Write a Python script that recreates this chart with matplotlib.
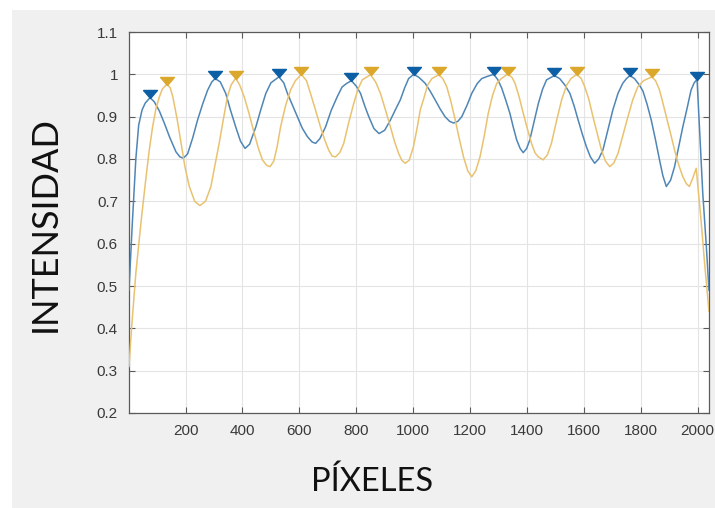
import matplotlib
matplotlib.use("Agg")
import matplotlib.pyplot as plt
from matplotlib.patches import Rectangle

# Intensity profiles along the sensor (pixel index vs. normalised intensity)
blue_x = [1, 12, 25, 35, 47, 58, 75, 90, 108, 125, 143, 166, 180, 192, 207, 225,
          242, 260, 277, 292, 304, 322, 341, 358, 376, 393, 409, 425, 447, 465,
          482, 500, 528, 545, 558, 575, 593, 610, 628, 645, 657, 672, 692, 712,
          733, 750, 765, 783, 800, 815, 830, 844, 862, 880, 900, 920, 938, 955,
          970, 984, 1002, 1020, 1042, 1060, 1077, 1095, 1112, 1128, 1142, 1157,
          1171, 1190, 1206, 1225, 1241, 1260, 1283, 1297, 1311, 1325, 1340, 1352,
          1364, 1376, 1387, 1399, 1410, 1425, 1440, 1455, 1469, 1496, 1515, 1533,
          1551, 1566, 1580, 1595, 1609, 1623, 1638, 1652, 1667, 1685, 1702, 1720,
          1737, 1750, 1762, 1778, 1795, 1808, 1822, 1837, 1852, 1866, 1878, 1890,
          1905, 1919, 1934, 1948, 1963, 1977, 1988, 1998, 2006, 2018, 2030, 2040]
blue_y = [0.49, 0.64, 0.80, 0.88, 0.916, 0.932, 0.945, 0.935, 0.913, 0.885, 0.853,
          0.817, 0.805, 0.802, 0.812, 0.85, 0.892, 0.93, 0.962, 0.982, 0.99, 0.982,
          0.955, 0.915, 0.876, 0.842, 0.825, 0.835, 0.876, 0.918, 0.955, 0.98,
          0.994, 0.98, 0.955, 0.928, 0.9, 0.873, 0.853, 0.84, 0.837, 0.848, 0.876,
          0.915, 0.947, 0.97, 0.978, 0.985, 0.972, 0.955, 0.925, 0.9, 0.872, 0.86,
          0.868, 0.892, 0.917, 0.94, 0.968, 0.99, 1.0, 0.993, 0.979, 0.96, 0.94,
          0.918, 0.9, 0.889, 0.885, 0.889, 0.9, 0.928, 0.955, 0.978, 0.99, 0.995,
          1.0, 0.988, 0.968, 0.94, 0.908, 0.875, 0.845, 0.825, 0.815, 0.825, 0.845,
          0.888, 0.931, 0.965, 0.987, 0.997, 0.99, 0.975, 0.955, 0.925, 0.892,
          0.858, 0.829, 0.805, 0.79, 0.80, 0.821, 0.87, 0.916, 0.955, 0.979, 0.99,
          0.997, 0.99, 0.975, 0.96, 0.93, 0.892, 0.845, 0.798, 0.76, 0.735, 0.75,
          0.782, 0.83, 0.876, 0.92, 0.963, 0.98, 0.988, 0.88, 0.72, 0.60, 0.49]

yellow_x = [1, 10, 25, 44, 61, 72, 84, 96, 108, 118, 134, 146, 155, 170, 184, 198,
            213, 232, 250, 270, 289, 303, 318, 333, 347, 360, 376, 390, 406, 424,
            441, 456, 470, 485, 497, 510, 522, 534, 551, 569, 586, 607, 625, 639,
            657, 674, 689, 703, 715, 727, 742, 756, 773, 791, 806, 821, 850, 868,
            885, 903, 920, 935, 949, 960, 972, 986, 1001, 1013, 1025, 1036, 1051,
            1066, 1090, 1104, 1118, 1133, 1148, 1162, 1177, 1192, 1206, 1220, 1235,
            1250, 1264, 1279, 1294, 1310, 1333, 1348, 1358, 1372, 1387, 1402, 1416,
            1428, 1440, 1457, 1472, 1486, 1504, 1522, 1540, 1555, 1575, 1591, 1603,
            1618, 1632, 1647, 1662, 1676, 1691, 1705, 1720, 1737, 1755, 1772, 1790,
            1810, 1839, 1852, 1865, 1875, 1890, 1905, 1919, 1934, 1948, 1960, 1971,
            1983, 1995, 2003, 2012, 2025, 2040]
yellow_y = [0.31, 0.40, 0.53, 0.656, 0.758, 0.82, 0.876, 0.92, 0.947, 0.965, 0.977,
            0.968, 0.947, 0.895, 0.837, 0.78, 0.735, 0.70, 0.69, 0.70, 0.735, 0.785,
            0.837, 0.895, 0.947, 0.975, 0.991, 0.975, 0.947, 0.905, 0.861, 0.825,
            0.798, 0.785, 0.782, 0.795, 0.83, 0.876, 0.925, 0.963, 0.985, 1.0,
            0.985, 0.955, 0.915, 0.876, 0.845, 0.821, 0.807, 0.805, 0.815, 0.837,
            0.885, 0.931, 0.965, 0.987, 0.999, 0.982, 0.955, 0.915, 0.876, 0.84,
            0.813, 0.797, 0.79, 0.797, 0.829, 0.87, 0.916, 0.94, 0.975, 0.99, 0.999,
            0.99, 0.971, 0.935, 0.892, 0.848, 0.805, 0.772, 0.758, 0.772, 0.805,
            0.855, 0.908, 0.95, 0.979, 0.99, 1.001, 0.992, 0.979, 0.948, 0.908, 0.87,
            0.837, 0.815, 0.805, 0.798, 0.81, 0.837, 0.89, 0.94, 0.975, 0.99, 1.0,
            0.99, 0.971, 0.94, 0.9, 0.86, 0.821, 0.795, 0.782, 0.79, 0.813, 0.855,
            0.9, 0.94, 0.971, 0.985, 0.994, 0.985, 0.965, 0.94, 0.9, 0.86, 0.821,
            0.785, 0.758, 0.742, 0.735, 0.755, 0.778, 0.72, 0.656, 0.55, 0.44]

# Detected peaks (marker positions)
blue_peak_x = [75, 304, 528, 783, 1002, 1283, 1496, 1762, 1998]
blue_peak_y = [0.953, 0.998, 1.002, 0.993, 1.008, 1.008, 1.005, 1.005, 0.996]
yellow_peak_x = [134, 376, 607, 850, 1090, 1333, 1575, 1839]
yellow_peak_y = [0.985, 0.999, 1.008, 1.007, 1.007, 1.009, 1.008, 1.002]

y_ticks = [0.2, 0.3, 0.4, 0.5, 0.6, 0.7, 0.8, 0.9, 1.0, 1.1]
y_tick_labels = ["0.2", "0.3", "0.4", "0.5", "0.6", "0.7", "0.8", "0.9", "1", "1.1"]
x_ticks = [200, 400, 600, 800, 1000, 1200, 1400, 1600, 1800, 2000]
x_tick_labels = ["200", "400", "600", "800", "1000", "1200", "1400", "1600", "1800", "2000"]

W, H = 715, 508
fig = plt.figure(figsize=(W / 100, H / 100), dpi=100, facecolor="white")
fig.patches.append(Rectangle((12 / W, 0), 1, 1 - 10 / H, transform=fig.transFigure,
                             facecolor="#f0f0f0", edgecolor="none", zorder=-10))

ax = fig.add_axes([129 / W, 1 - 413 / H, 580 / W, 381 / H])
ax.set_facecolor("white")

tri = [(-1.0, 0.58), (1.0, 0.58), (0.0, -0.58), (-1.0, 0.58)]

ax.plot(blue_x, blue_y, color="#4f86b6", lw=1.1, zorder=3)
ax.plot(yellow_x, yellow_y, color="#e9c270", lw=1.1, zorder=3)
ax.plot(blue_peak_x, blue_peak_y, ls="none", marker=tri, markersize=10,
        color="#0d5fa5", zorder=4)
ax.plot(yellow_peak_x, yellow_peak_y, ls="none", marker=tri, markersize=10,
        color="#dba82c", zorder=4)

ax.set_xlim(1, 2040)
ax.set_ylim(0.2, 1.1)
ax.set_xticks(x_ticks)
ax.set_xticklabels(x_tick_labels)
ax.set_yticks(y_ticks)
ax.set_yticklabels(y_tick_labels)

ax.grid(True, color="#e4e4e4", lw=0.8)
ax.set_axisbelow(True)
for s in ax.spines.values():
    s.set_color("#5a5a5a")
    s.set_linewidth(0.9)
ax.tick_params(direction="in", length=4, width=0.8, color="#5a5a5a",
               top=True, right=True, labelsize=11, labelcolor="#3a3a3a", pad=8)
for lab in ax.get_xticklabels() + ax.get_yticklabels():
    lab.set_family("Liberation Sans")

fig.text(45 / W, 1 - 224 / H, "INTENSIDAD", rotation=90, ha="center", va="center",
         fontsize=26, family="Lato", color="#111111")
fig.text(372 / W, 1 - 482 / H, "PÍXELES", ha="center", va="center",
         fontsize=23.5, family="Lato", color="#111111")

fig.savefig("out.png", dpi=100, facecolor=fig.get_facecolor())
